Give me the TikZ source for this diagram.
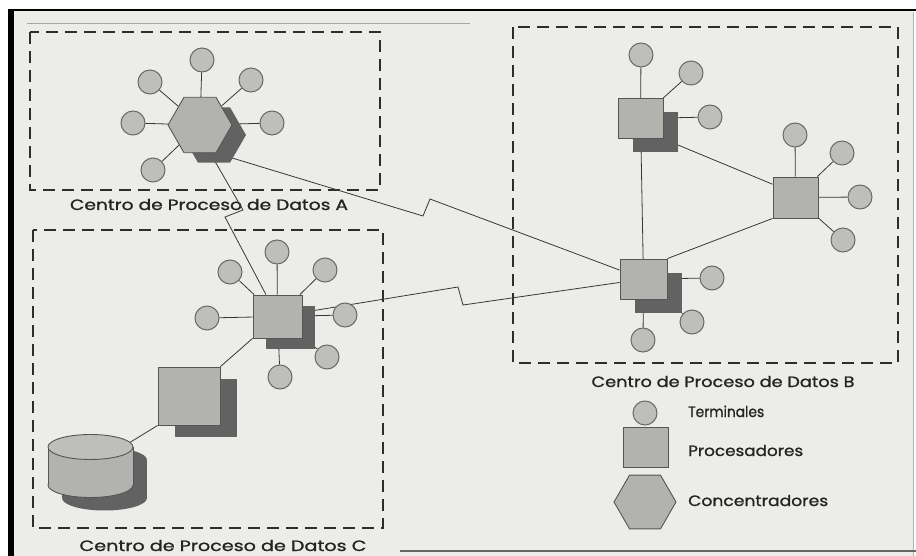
\documentclass[tikz,border=0pt]{standalone}
\usepackage{fontspec}
\usepackage{graphicx}
\usetikzlibrary{shapes.geometric,shadows}
\newfontfamily\labfont[FakeBold=1]{Poppins}
% scale a text horizontally to a given width, keeping its height
\newcommand{\fitw}[2]{\resizebox{#1}{\height}{#2}}

\definecolor{paper}{RGB}{236,236,233}
\definecolor{termfill}{RGB}{190,190,187}
\definecolor{termdraw}{RGB}{105,105,105}
\definecolor{procfill}{RGB}{178,178,175}
\definecolor{procdraw}{RGB}{85,85,85}
\definecolor{shadowc}{RGB}{98,98,98}
\definecolor{linec}{RGB}{55,55,55}
\definecolor{zonec}{RGB}{45,45,45}
\definecolor{labc}{RGB}{35,35,35}

\pgfdeclarelayer{bg}
\pgfdeclarelayer{links}
\pgfsetlayers{bg,links,main}

\begin{document}
\begin{tikzpicture}[x=1pt,y=-1pt,
  term/.style={circle, minimum size=24pt, inner sep=0pt, fill=termfill, draw=termdraw, line width=1pt},
  proc/.style 2 args={rectangle, inner sep=0pt, minimum width=#1pt, minimum height=#2pt,
                      fill=procfill, draw=procdraw, line width=0.9pt},
  conc/.style={regular polygon, regular polygon sides=6, minimum size=#1pt, inner sep=0pt,
               fill=procfill, draw=procdraw, line width=0.9pt},
  shd/.style 2 args={drop shadow={shadow xshift=#1pt, shadow yshift=-#2pt, fill=shadowc, opacity=1}},
  zone/.style={draw=zonec, line width=1.5pt, dash pattern=on 12pt off 7pt},
  link/.style={draw=linec, line width=0.8pt},
  lab/.style={font=\labfont\fontsize{15}{17}\selectfont, text=labc, inner sep=0pt},
]
\useasboundingbox (0,0) rectangle (916,556);

\begin{pgfonlayer}{bg}
  % sheet and its frame
  \fill[white] (0,0) rectangle (916,556);
  \fill[paper] (8,10) rectangle (913,556);
  \fill[black] (8,9) rectangle (14,556);
  \draw[black, line width=2pt] (8,10) -- (916,10);
  \draw[gray!70, line width=0.8pt] (27,23) -- (470,23);
  \draw[gray!60, line width=0.8pt] (913,12) -- (913,556);
  \draw[gray!80!black, line width=1.5pt] (400,551) -- (916,551);

  % data centre zones
  \draw[zone] (30,32) rectangle (380,190);
  \draw[zone] (513,27) rectangle (898,363);
  \draw[zone] (33,230) rectangle (383,528);

  \node[lab, anchor=base] (labA) at (209,210) {\fitw{278pt}{Centro de Proceso de Datos A}};
  \node[lab, anchor=base] (labB) at (723,387) {\fitw{263pt}{Centro de Proceso de Datos B}};
  \node[lab, anchor=base] (labC) at (223,551) {\fitw{287pt}{Centro de Proceso de Datos C}};

  % legend texts
  \node[lab, anchor=base west] (lgTt) at (688,417) {\fitw{76pt}{Terminales}};
  \node[lab, anchor=base west] (lgPt) at (688,456) {\fitw{115pt}{Procesadores}};
  \node[lab, anchor=base west] (lgCt) at (688,506) {\fitw{140pt}{Concentradores}};
\end{pgfonlayer}

% ---- centre A: concentrator
\node[conc=64, shd={14}{10}] (hexA) at (200,125) {};
\node[term] (tA1) at (202,60) {};
\node[term] (tA2) at (150,82) {};
\node[term] (tA3) at (251,80) {};
\node[term] (tA4) at (133,123) {};
\node[term] (tA5) at (272,123) {};
\node[term] (tA6) at (153,170) {};

% ---- centre B: three processors
\node[proc={45}{40}, shd={15}{14}] (b1) at (640.5,118.5) {};
\node[proc={45}{41}] (b2) at (795.5,197.5) {};
\node[proc={47}{40}, shd={15}{14}] (b3) at (643.5,279) {};
\node[term] (tB1) at (641,55) {};
\node[term] (tB2) at (691,73) {};
\node[term] (tB3) at (710,117) {};
\node[term] (tB4) at (795,135) {};
\node[term] (tB5) at (842,153) {};
\node[term] (tB6) at (860,197) {};
\node[term] (tB7) at (843,240) {};
\node[term] (tB8) at (712,278) {};
\node[term] (tB9) at (692,322) {};
\node[term] (tB10) at (643,340) {};

% ---- centre C: processors and disk
\node[proc={49}{43}, shd={13}{11}] (c1) at (277.5,316.5) {};
\node[proc={62}{58}, shd={17}{12}] (c2) at (189,396) {};
\node[term] (tC1) at (277,252) {};
\node[term] (tC2) at (230,272) {};
\node[term] (tC3) at (325,270) {};
\node[term] (tC4) at (207,318) {};
\node[term] (tC5) at (345,315) {};
\node[term] (tC6) at (327,357) {};
\node[term] (tC7) at (280,377) {};

% disk unit
\fill[shadowc] (104.5,498) ellipse [x radius=42.5, y radius=12.5];
\fill[shadowc] (62,460) rectangle (147,498);
\fill[shadowc] (104.5,460) ellipse [x radius=42.5, y radius=12.5];
\filldraw[fill=procfill, draw=procdraw, line width=0.9pt] (90.5,485) ellipse [x radius=42.5, y radius=12.5];
\fill[procfill] (48,447) rectangle (133,485);
\draw[procdraw, line width=0.9pt] (48,447) -- (48,485) (133,447) -- (133,485);
\filldraw[fill=termfill, draw=procdraw, line width=0.9pt] (90.5,447) ellipse [x radius=42.5, y radius=12.5];
\coordinate (cylTop) at (130,442.4);

% ---- legend symbols
\node[term] (lgT) at (645,413) {};
\node[proc={45}{40}] (lgP) at (645.5,447) {};
\node[conc=62] (lgC) at (645,502) {};

% ---- connections
\coordinate (zA1) at (423,216);
\coordinate (zA2) at (430,199);
\coordinate (zC1) at (243,210);
\coordinate (zC2) at (225,217);
\coordinate (zB1) at (458,287);
\coordinate (zB2) at (463,305);

\begin{pgfonlayer}{links}
  \foreach \t in {tA1,tA2,tA3,tA4,tA5,tA6} \draw[link] (hexA) -- (\t);
  \foreach \t in {tB1,tB2,tB3} \draw[link] (b1) -- (\t);
  \foreach \t in {tB4,tB5,tB6,tB7} \draw[link] (b2) -- (\t);
  \foreach \t in {tB8,tB9,tB10} \draw[link] (b3) -- (\t);
  \foreach \t in {tC1,tC2,tC3,tC4,tC5,tC6,tC7} \draw[link] (c1) -- (\t);

  \draw[link] (hexA.-60) -- (zA1) -- (zA2) -- (b3);
  \draw[link] (hexA.-70) -- (zC1) -- (zC2) -- (c1);
  \draw[link] (c1) -- (zB1) -- (zB2) -- (b3);
  \draw[link] (b1) -- (b3);
  \draw[link] (b1.south east) -- (b2.150);
  \draw[link] (b3.north east) -- (b2.south west);
  \draw[link] (c1.south west) -- (c2.north east);
  \draw[link] (c2.south west) -- (cylTop);
\end{pgfonlayer}
\end{tikzpicture}
\end{document}
